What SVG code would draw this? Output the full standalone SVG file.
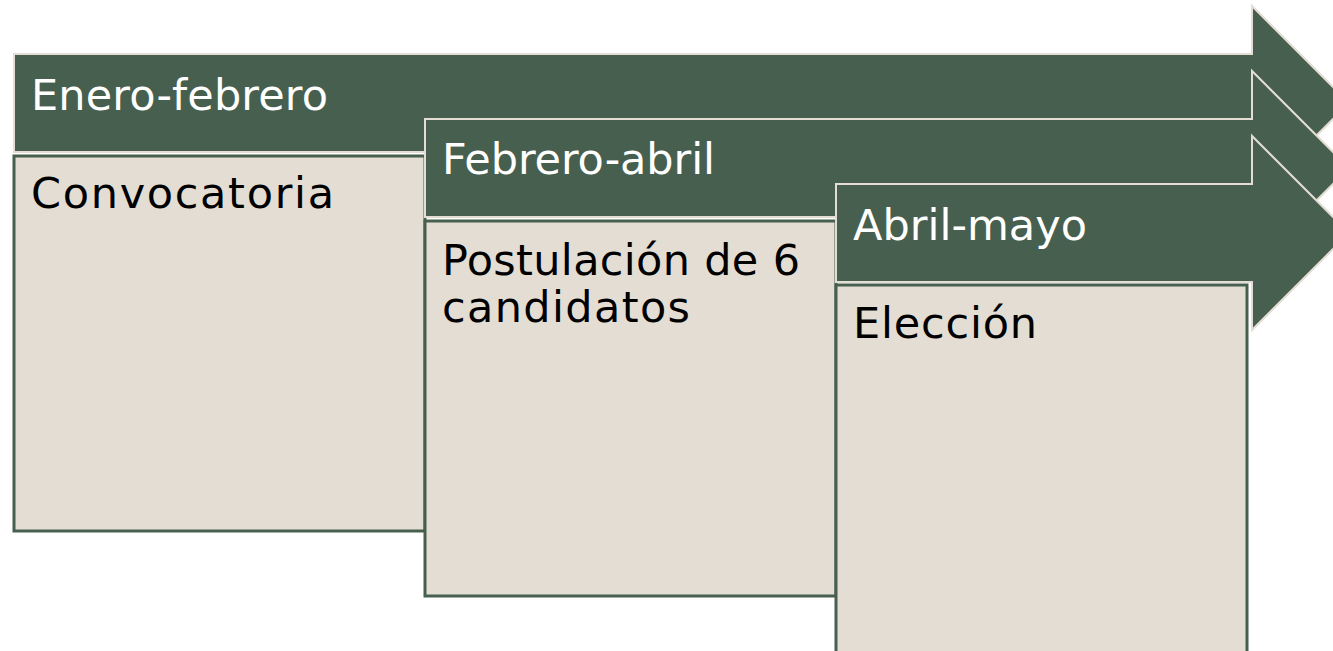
<svg xmlns="http://www.w3.org/2000/svg" width="1333" height="651" viewBox="0 0 1333 651">
<style>
.arrow{fill:#475f4f;stroke:#e3ddd3;stroke-width:2}
.box{fill:#e3ddd3;stroke:#475f4f;stroke-width:3}
.hd{font-family:"DejaVu Sans","Liberation Sans",sans-serif;font-size:43px;fill:#ffffff}
.bd{font-family:"DejaVu Sans","Liberation Sans",sans-serif;font-size:43px;fill:#000000}
</style>
<rect width="1333" height="651" fill="#ffffff"/>
<g id="stage1">
<path class="arrow" d="M14,54 H1252 V6 L1349,103 L1252,200 V152 H14 Z"/>
<text class="hd" x="31" y="110" textLength="297">Enero-febrero</text>
</g>
<g id="stage1-box">
<rect class="box" x="14" y="156" width="411" height="375"/>
<text class="bd" x="31" y="208" textLength="303">Convocatoria</text>
</g>
<g id="stage2">
<path class="arrow" d="M425,119 H1252 V71 L1349,168 L1252,265 V217 H425 Z"/>
<text class="hd" x="442" y="174" textLength="273">Febrero-abril</text>
</g>
<g id="stage2-box">
<rect class="box" x="425" y="221" width="411" height="375"/>
<text class="bd" x="442" y="275" textLength="358">Postulación de 6</text>
<text class="bd" x="442" y="322" textLength="248">candidatos</text>
</g>
<g id="stage3">
<path class="arrow" d="M836,184 H1252 V136 L1349,233 L1252,330 V282 H836 Z"/>
<text class="hd" x="853" y="240" textLength="234">Abril-mayo</text>
</g>
<g id="stage3-box">
<rect class="box" x="836" y="285" width="411" height="380"/>
<text class="bd" x="853" y="338" textLength="184">Elección</text>
</g>
</svg>
